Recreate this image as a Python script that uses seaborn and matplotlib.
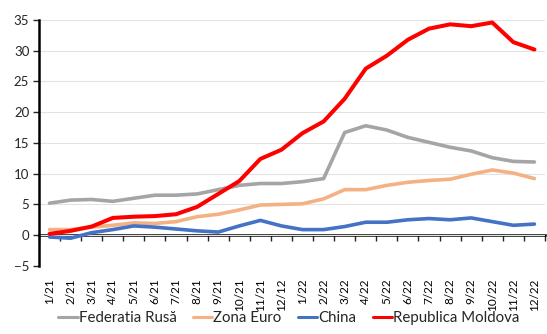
import matplotlib
matplotlib.use("Agg")
import matplotlib.pyplot as plt
import seaborn as sns
import pandas as pd
import numpy as np

# month labels (the source chart has "12/12" instead of "12/21")
months = ["1/21", "2/21", "3/21", "4/21", "5/21", "6/21", "7/21", "8/21", "9/21",
          "10/21", "11/21", "12/12", "1/22", "2/22", "3/22", "4/22", "5/22", "6/22",
          "7/22", "8/22", "9/22", "10/22", "11/22", "12/22"]

rusia = [5.2, 5.7, 5.8, 5.5, 6.0, 6.5, 6.5, 6.7, 7.4, 8.1, 8.4, 8.4,
         8.7, 9.2, 16.7, 17.8, 17.1, 15.9, 15.1, 14.3, 13.7, 12.6, 12.0, 11.9]
zona_euro = [0.9, 0.9, 1.3, 1.6, 2.0, 1.9, 2.2, 3.0, 3.4, 4.1, 4.9, 5.0,
             5.1, 5.9, 7.4, 7.4, 8.1, 8.6, 8.9, 9.1, 9.9, 10.6, 10.1, 9.2]
china = [-0.3, -0.5, 0.4, 0.9, 1.5, 1.3, 1.0, 0.7, 0.5, 1.5, 2.4, 1.5,
         0.9, 0.9, 1.4, 2.1, 2.1, 2.5, 2.7, 2.5, 2.8, 2.2, 1.6, 1.8]
moldova = [0.2, 0.7, 1.4, 2.8, 3.0, 3.1, 3.4, 4.6, 6.7, 8.8, 12.4, 13.9,
           16.6, 18.5, 22.2, 27.1, 29.2, 31.8, 33.6, 34.3, 34.0, 34.6, 31.4, 30.2]

series_names = ["Federatia Rusă", "Zona Euro", "China", "Republica Moldova"]
colors = ["#A5A5A5", "#F4B183", "#4472C4", "#FF0000"]
y_ticks = [-5, 0, 5, 10, 15, 20, 25, 30, 35]

# long-form table for seaborn
df = pd.DataFrame({
    "idx": np.tile(np.arange(len(months)), 4),
    "value": rusia + zona_euro + china + moldova,
    "serie": np.repeat(series_names, len(months)),
})

sns.set_style("white")
plt.rcParams["font.family"] = ["Lato", "DejaVu Sans"]

fig = plt.figure(figsize=(5.47, 3.34), dpi=100)
ax = fig.add_axes([0.0713, 0.204, 0.925, 0.736])

sns.lineplot(data=df, x="idx", y="value", hue="serie", hue_order=series_names,
             palette=colors, linewidth=2.6, ax=ax, legend=False)
# Moldova line a bit thicker
ax.lines[3].set_linewidth(2.9)

ax.set_xlim(-0.5, len(months) - 0.5)
ax.set_ylim(-5, 35)
ax.set_yticks(y_ticks)
ax.yaxis.grid(True, color="#E3E3E3", linewidth=0.8)
ax.set_axisbelow(True)
ax.set_xlabel("")
ax.set_ylabel("")

ax.set_xticks(np.arange(len(months)))
ax.set_xticklabels(months, rotation=90)
ax.tick_params(axis="x", length=0, pad=9, labelsize=8.5, labelcolor="#000000")
ax.tick_params(axis="y", length=4, width=1, pad=3, labelsize=9.5, left=True)

for side in ["top", "right", "bottom"]:
    ax.spines[side].set_visible(False)
ax.spines["left"].set_linewidth(1.8)
ax.spines["left"].set_color("black")

# zero line with category-boundary tick marks
zero_pos = (0 - (-5)) / 40
sec = ax.secondary_xaxis(zero_pos)
sec.set_xticks(np.arange(len(months) + 1) - 0.5)
sec.tick_params(length=4.5, width=1, labelbottom=False, direction="out")
sec.spines["bottom"].set_linewidth(1.8)
sec.spines["bottom"].set_color("black")

handles = [plt.Line2D([], [], color=c, linewidth=2.2) for c in colors]
fig.legend(handles, series_names, loc="lower center", bbox_to_anchor=(0.528, 0.0),
           ncol=4, frameon=False, fontsize=10.8, handlelength=1.3,
           handletextpad=0.05, columnspacing=1.1, borderpad=0.1)

fig.savefig("out.png", dpi=100)
